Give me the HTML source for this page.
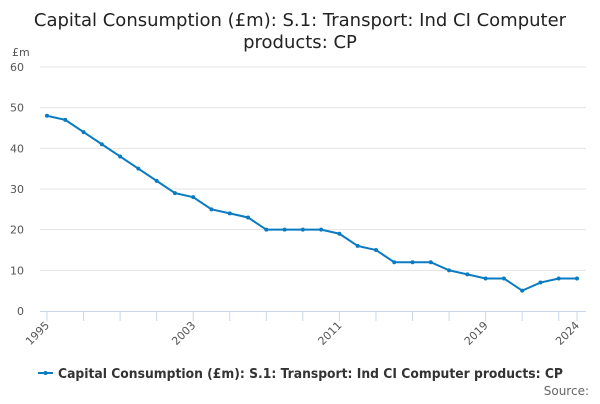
<!DOCTYPE html>
<html><head><meta charset="utf-8"><style>
body{margin:0;background:#fff;font-family:"DejaVu Sans","Liberation Sans",sans-serif;}
svg text{font-family:"DejaVu Sans","Liberation Sans",sans-serif;}
</style></head><body>
<svg id="c" width="600" height="400" xmlns="http://www.w3.org/2000/svg">
<text x="300" y="26" text-anchor="middle" font-size="18" fill="#222">Capital Consumption (£m): S.1: Transport: Ind CI Computer</text>
<text x="300" y="48" text-anchor="middle" font-size="18" fill="#222">products: CP</text>
<text x="12" y="56" font-size="11" fill="#555">£m</text>
<g id="grid"></g><g id="xax"></g><g id="series"></g>
<g>
<line x1="38" y1="373" x2="53" y2="373" stroke="#0a7bc2" stroke-width="2"/><circle cx="45.5" cy="373" r="2" fill="#0a7bc2"/>
<text x="58" y="378" font-size="13" font-weight="bold" fill="#333" textLength="505" lengthAdjust="spacingAndGlyphs">Capital Consumption (£m): S.1: Transport: Ind CI Computer products: CP</text>
</g>
<text x="589" y="395" text-anchor="end" font-size="12" fill="#666">Source:</text>
</svg>
<script>
const years=[1995,1996,1997,1998,1999,2000,2001,2002,2003,2004,2005,2006,2007,2008,2009,2010,2011,2012,2013,2014,2015,2016,2017,2018,2019,2020,2021,2022,2023,2024];
const values=[48,47,44,41,38,35,32,29,28,25,24,23,20,20,20,20,19,16,15,12,12,12,10,9,8,8,5,7,8,8];
const yTicks=[0,10,20,30,40,50,60];
const xLabels=[1995,2003,2011,2019,2024];
const NS="http://www.w3.org/2000/svg";
const x=v=>47+(v-1995)*(530/29);
const y=v=>311-v*(244/60);
function mk(t,a,p){const e=document.createElementNS(NS,t);for(const k in a)e.setAttribute(k,a[k]);p.appendChild(e);return e;}
const grid=document.getElementById('grid'),xax=document.getElementById('xax'),ser=document.getElementById('series');
yTicks.forEach(t=>{
 if(t>0){const l=mk('line',{x1:40,x2:586,y1:y(t),y2:y(t),stroke:'#e3e3e3'},grid);
 
 }
 const tx=mk('text',{x:24,y:y(t)+4,'text-anchor':'end','font-size':11,fill:'#555'},grid);tx.textContent=t;
 
 
});
const ax=mk('line',{x1:40,x2:586,y1:311.5,y2:311.5,stroke:'#ccd6eb'},xax);


years.forEach(yr=>{if((yr-1995)%2===0||yr===2024){const t=mk('line',{x1:x(yr),x2:x(yr),y1:311,y2:321,stroke:'#ccd6eb'},xax);
 
 }});
xLabels.forEach(yr=>{const t=mk('text',{x:x(yr)+3,y:326,'text-anchor':'end','font-size':11,fill:'#555',transform:`rotate(-45 ${x(yr)+3} 326)`},xax);t.textContent=yr;
 
 });
const p=mk('polyline',{points:years.map((yr,i)=>x(yr)+','+y(values[i])).join(' '),fill:'none',stroke:'#0a7bc2','stroke-width':2},ser);


years.forEach((yr,i)=>{const c=mk('circle',{cx:x(yr),cy:y(values[i]),r:2,fill:'#0a7bc2'},ser);
 
 });
</script>
</body></html>
